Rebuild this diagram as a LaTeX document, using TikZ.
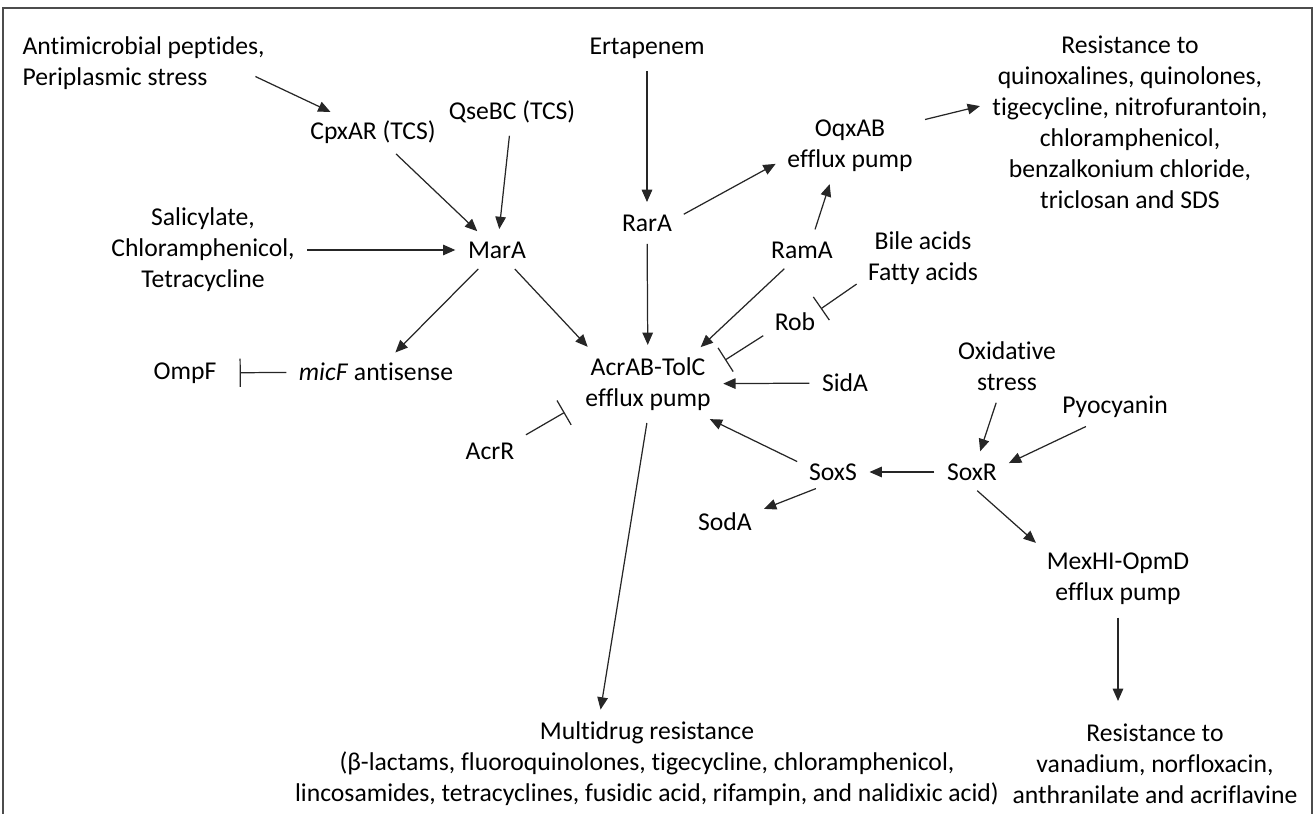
\documentclass[tikz,border=0pt]{standalone}
\usepackage{fontspec}
\setmainfont{Carlito}[Ligatures=NoCommon]
\usetikzlibrary{arrows.meta}

\begin{document}
\begin{tikzpicture}[x=0.02cm, y=-0.02cm,
    every node/.style={font=\fontsize{14.6}{17.6}\selectfont, align=center, inner sep=3pt},
    act/.style={draw=black!85, line width=0.7pt, -{Triangle[length=7pt,width=6pt]}, shorten >=4pt, shorten <=4pt},
    inh/.style={draw=black!85, line width=0.7pt, -{Bar[width=16pt]}, shorten <=4pt}]
    \useasboundingbox (0,0) rectangle (1316,814);
    \draw[black!70, line width=1.1pt] (3,814) -- (3,8) -- (1312,8) -- (1312,814);

    % signals and regulators
    \node[anchor=west, align=left] (amp) at (17,63) {Antimicrobial peptides,\\Periplasmic stress};
    \node (ert) at (647,48) {Ertapenem};
    \node (resq) at (1130,122) {Resistance to\\quinoxalines, quinolones,\\tigecycline, nitrofurantoin,\\chloramphenicol,\\benzalkonium chloride,\\triclosan and SDS};
    \node (cpx) at (373,132) {CpxAR (TCS)};
    \node (qse) at (512,112) {QseBC (TCS)};
    \node (oqx) at (850,146) {OqxAB\\efflux pump};
    \node (sal) at (203,250) {Salicylate,\\Chloramphenicol,\\Tetracycline};
    \node (mara) at (497,250) {MarA};
    \node (rara) at (647,223) {RarA};
    \node (rama) at (802,250) {RamA};
    \node (bile) at (923,258) {Bile acids\\Fatty acids};
    \node (rob) at (795,322) {Rob};
    \node (acrab) at (648,384) {AcrAB-TolC\\efflux pump};
    \node (sida) at (845,383) {SidA};
    \node (ompf) at (185,373) {OmpF};
    \node (micf) at (376,372) {\textit{micF} antisense};
    \node (oxid) at (1007,366) {Oxidative\\stress};
    \node (pyo) at (1115,407) {Pyocyanin};
    \node (acrr) at (490,451) {AcrR};
    \node (soxs) at (833,472) {SoxS};
    \node (soxr) at (972,472) {SoxR};
    \node (soda) at (725,522) {SodA};
    \node (mex) at (1118,579) {MexHI-OpmD\\efflux pump};

    % outcomes
    \node (mdr) at (647,764) {Multidrug resistance\\(β-lactams, fluoroquinolones, tigecycline, chloramphenicol,\\lincosamides, tetracyclines, fusidic acid, rifampin, and nalidixic acid)};
    \node[anchor=east] (resv) at (1303,764) {Resistance to\\vanadium, norfloxacin,\\anthranilate and acriflavine};

    % activation
    \draw[act] ([xshift=-12pt,yshift=-6pt]amp.east) -- (cpx);
    \draw[act] (cpx) -- (mara);
    \draw[act] (qse) -- (mara);
    \draw[act] (sal) -- (mara);
    \draw[act] (mara) -- (micf);
    \draw[act] (mara) -- (acrab.150);
    \draw[act] (ert) -- (rara);
    \draw[act] (rara.10) -- (oqx.192);
    \draw[act] (rara) -- (acrab);
    \draw[act] (rama.52) -- (oqx.240);
    \draw[act] (rama.228) -- (acrab.34);
    \draw[act] (sida) -- (acrab);
    \draw[act] (oqx.20) -- (resq.173);
    \draw[act] (soxs.166) -- (acrab.330);
    \draw[act] (soxr) -- (soxs);
    \draw[act] (oxid.254) -- (soxr.67);
    \draw[act] (pyo.216) -- (soxr.11);
    \draw[act] (soxs.233) -- (soda.18);
    \draw[act] (soxr.south) -- (mex.north west);
    \draw[act] (acrab.south) -- (mdr.135);
    \draw[act, shorten >=10pt] (mex) -- (mex |- resv.north);

    % repression
    \draw[inh, shorten >=10pt] (micf) -- (ompf);
    \draw[inh] (bile.200) -- (rob.27);
    \draw[inh, shorten >=6pt] (rob.201) -- (acrab.15);
    \draw[inh, shorten >=10pt] (acrr.23) -- (acrab.196);
\end{tikzpicture}
\end{document}
